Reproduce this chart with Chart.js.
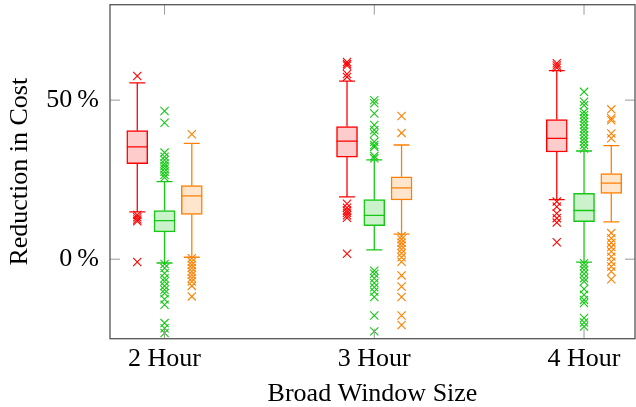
<!DOCTYPE html>
<html>
<head>
<meta charset="utf-8">
<script src="https://cdn.jsdelivr.net/npm/chart.js@4.4.1/dist/chart.umd.min.js"></script>
<style>
  html, body { margin: 0; padding: 0; background: #fff; }
  #wrap { width: 636px; height: 407px; }
</style>
</head>
<body>
<div id="wrap"><canvas id="chart"></canvas></div>
<script>
//========================= data ===========================
var categories = ['2 Hour', '3 Hour', '4 Hour'];
var yTickValues = [0, 50];

// per category: [lower whisker, q1, median, q3, upper whisker]
var redBoxes = [[14.9, 30.0, 35.3, 40.4, 55.4], [19.6, 32.1, 37.1, 41.7, 56.0], [18.7, 33.7, 38.0, 43.9, 59.3]];
var greenBoxes = [[-1.2, 8.6, 12.1, 15.3, 24.4], [2.9, 10.5, 13.8, 18.7, 31.2], [-0.9, 11.8, 15.3, 20.7, 34.0]];
var orangeBoxes = [[0.6, 14.1, 19.9, 23.1, 36.4], [7.9, 18.6, 22.4, 25.9, 35.9], [11.7, 20.7, 23.9, 26.9, 35.7]];

var redOutliers = [
    [57.6, 13.9, 13.2, 12.5, 11.9, -0.9],
    [62.0, 61.4, 60.9, 58.2, 57.3, 17.4, 16.2, 15.3, 14.6, 13.8, 13.0, 1.7],
    [61.6, 60.9, 60.2, 18.1, 16.5, 14.4, 12.9, 11.5, 5.3]
];
var greenOutliers = [
    [46.6, 42.9, 33.5, 32.2, 31.2, 30.1, 29.3, 28.4, 27.5, 26.5, 25.7,
     -1.5, -2.8, -4.4, -6.0, -7.0, -8.4, -9.6, -10.7, -12.6, -14.3, -20.1, -21.7, -23.2],
    [50.0, 49.0, 45.8, 42.2, 40.6, 39.5, 36.9, 35.9, 35.3, 32.4, 31.7,
     -3.6, -4.6, -6.0, -7.5, -8.8, -10.2, -11.9, -17.7, -22.7],
    [52.6, 49.5, 48.4, 46.3, 45.3, 44.3, 43.2, 42.2, 41.1, 40.1, 39.0, 37.9, 36.9, 35.9, 34.8,
     -1.3, -2.3, -3.4, -4.6, -6.0, -7.0, -9.4, -11.2, -12.8, -13.8, -18.5, -19.9, -21.2]
];
var orangeOutliers = [
    [39.3, 0.3, -0.8, -1.8, -2.8, -3.9, -4.9, -6.0, -7.0, -8.4, -11.7],
    [45.0, 39.7, 7.3, 6.3, 5.2, 4.2, 3.1, 1.9, 0.6, -0.8, -5.1, -8.6, -11.9, -17.7, -20.7],
    [47.1, 44.3, 43.7, 39.5, 38.0, 8.2, 6.6, 5.2, 3.8, 2.4, 0.8, -0.8, -2.3, -3.9, -6.3]
];

//========================= helpers ===========================
var GROUP_SHIFT = 0.13;   // x offset of the side boxes
var CAP_HALF = 0.038;     // half width of whisker caps
var BOX_HALF = 0.05;      // half width of the box (median line)
var FONT = "'Liberation Serif', 'Times New Roman', serif";

function boxSet(stats, shift, stroke, fill) {
    return {
        type: 'bar',
        data: stats.map(function (s, i) { return { x: i + 1 + shift, y: [s[1], s[3]] }; }),
        backgroundColor: fill,
        borderColor: stroke,
        borderWidth: 1.5,
        borderSkipped: false,
        grouped: false,
        barPercentage: 1,
        categoryPercentage: 1,
        maxBarThickness: 21,
        order: 2
    };
}

function whiskerSet(stats, shift, stroke) {
    var pts = [];
    stats.forEach(function (s, i) {
        var c = i + 1 + shift;
        pts.push({ x: c, y: s[3] }, { x: c, y: s[4] }, { x: c, y: null });
        pts.push({ x: c, y: s[1] }, { x: c, y: s[0] }, { x: c, y: null });
        pts.push({ x: c - CAP_HALF, y: s[4] }, { x: c + CAP_HALF, y: s[4] }, { x: c, y: null });
        pts.push({ x: c - CAP_HALF, y: s[0] }, { x: c + CAP_HALF, y: s[0] }, { x: c, y: null });
        pts.push({ x: c - BOX_HALF, y: s[2] }, { x: c + BOX_HALF, y: s[2] }, { x: c, y: null });
    });
    return {
        type: 'line',
        data: pts,
        borderColor: stroke,
        borderWidth: 1.3,
        pointRadius: 0,
        spanGaps: false,
        fill: false,
        order: 0
    };
}

function outlierSet(outs, shift, stroke) {
    var pts = [];
    outs.forEach(function (list, i) {
        list.forEach(function (v) { pts.push({ x: i + 1 + shift, y: v }); });
    });
    return {
        type: 'scatter',
        data: pts,
        pointStyle: 'crossRot',
        pointRadius: 5.8,
        borderColor: stroke,
        borderWidth: 1.1,
        order: 1
    };
}

var RED = 'rgb(255,0,0)', RED_FILL = 'rgb(255,204,204)';
var GREEN = 'rgb(20,200,20)', GREEN_FILL = 'rgb(204,242,204)';
var ORANGE = 'rgb(255,128,0)', ORANGE_FILL = 'rgb(255,229,204)';

//========================= frame + inner ticks ===========================
var frameTicks = {
    id: 'frameTicks',
    afterDatasetsDraw: function (chart) {
        var ctx = chart.ctx, a = chart.chartArea, x = chart.scales.x, y = chart.scales.y;
        ctx.save();
        ctx.strokeStyle = '#999';
        ctx.lineWidth = 1;
        ctx.beginPath();
        yTickValues.forEach(function (v) {
            var py = y.getPixelForValue(v);
            ctx.moveTo(a.left, py); ctx.lineTo(a.left + 10, py);
            ctx.moveTo(a.right, py); ctx.lineTo(a.right - 10, py);
        });
        categories.forEach(function (c, i) {
            var px = x.getPixelForValue(i + 1);
            ctx.moveTo(px, a.bottom); ctx.lineTo(px, a.bottom - 10);
            ctx.moveTo(px, a.top); ctx.lineTo(px, a.top + 10);
        });
        ctx.stroke();
        ctx.strokeStyle = '#555';
        ctx.lineWidth = 1.3;
        ctx.strokeRect(a.left, a.top, a.right - a.left, a.bottom - a.top);
        ctx.restore();
    }
};

//========================= chart ===========================
new Chart(document.getElementById('chart').getContext('2d'), {
    type: 'bar',
    data: {
        datasets: [
            whiskerSet(redBoxes, -GROUP_SHIFT, RED),
            whiskerSet(greenBoxes, 0, GREEN),
            whiskerSet(orangeBoxes, GROUP_SHIFT, ORANGE),
            outlierSet(redOutliers, -GROUP_SHIFT, RED),
            outlierSet(greenOutliers, 0, GREEN),
            outlierSet(orangeOutliers, GROUP_SHIFT, ORANGE),
            boxSet(redBoxes, -GROUP_SHIFT, RED, RED_FILL),
            boxSet(greenBoxes, 0, GREEN, GREEN_FILL),
            boxSet(orangeBoxes, GROUP_SHIFT, ORANGE, ORANGE_FILL)
        ]
    },
    options: {
        responsive: true,
        maintainAspectRatio: false,
        animation: false,
        layout: { autoPadding: false, padding: { top: 4.7, right: 1, left: 0, bottom: 0 } },
        plugins: { legend: { display: false }, tooltip: { enabled: false } },
        scales: {
            x: {
                type: 'linear',
                min: 0.74,
                max: 3.243,
                offset: false,
                grid: { display: false, drawTicks: false },
                border: { display: false },
                afterFit: function (s) {
                    s.height = 68.3;
                    s.paddingLeft = 0;
                    s.paddingRight = 0;
                },
                afterBuildTicks: function (s) {
                    s.ticks = categories.map(function (c, i) { return { value: i + 1 }; });
                },
                ticks: {
                    autoSkip: false,
                    maxRotation: 0,
                    padding: 5,
                    color: '#000',
                    font: { family: FONT, size: 26 },
                    callback: function (v) { return categories[v - 1]; }
                },
                title: {
                    display: true,
                    text: 'Broad Window Size',
                    color: '#000',
                    font: { family: FONT, size: 26 },
                    padding: { top: 0, bottom: -3 }
                }
            },
            y: {
                min: -25,
                max: 80,
                grid: { display: false, drawTicks: false },
                border: { display: false },
                afterFit: function (s) {
                    s.width = 110;
                    s.paddingTop = 0;
                    s.paddingBottom = 0;
                },
                afterBuildTicks: function (s) {
                    s.ticks = yTickValues.map(function (v) { return { value: v }; });
                },
                ticks: {
                    padding: 11,
                    color: '#000',
                    font: { family: FONT, size: 26 },
                    callback: function (v) { return v + '\u2009%'; }
                },
                title: {
                    display: true,
                    text: 'Reduction in Cost',
                    color: '#000',
                    font: { family: FONT, size: 26 },
                    padding: { top: 5, bottom: 0 }
                }
            }
        }
    },
    plugins: [frameTicks]
});
</script>
</body>
</html>
